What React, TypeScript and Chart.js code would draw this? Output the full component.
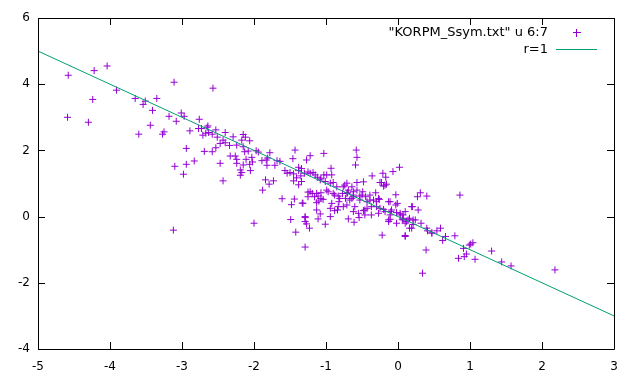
import React, { useEffect, useRef } from "react";
import { Chart, registerables } from "chart.js";

Chart.register(...registerables);

const xTicks = [-5, -4, -3, -2, -1, 0, 1, 2, 3];
const yTicks = [-4, -2, 0, 2, 4, 6];
const seriesLabel = '"KORPM_Ssym.txt" u 6:7';
const lineLabel = "r=1";
const lineX = [-5, 3];
const lineY = [5, -3];

const ptX = [
  -4.58, -4.22, -4.04, -4.59, -4.30, -4.24, -3.91, -3.65, -3.54, -3.51, -3.35, -3.41, -3.11, -3.60, -3.44, -3.27, -3.25, -3.18, -3.08, -3.01,
  -2.97, -2.76, -2.89, -2.77, -2.73, -2.65, -2.71, -2.67, -2.94, -2.69, -2.83, -2.94, -3.10, -2.98, -3.12, -2.57,
  -2.64, -2.63, -2.53, -2.58, -2.51, -2.40, -2.43, -2.40, -2.47, -2.29, -2.34, -2.24, -2.15, -2.12, -2.17, -2.06, -2.13, -2.08, -2.15, -1.97,
  -1.94, -1.78, -2.58, -2.53, -2.33, -2.26, -2.24, -2.47, -2.11, -2.03, -2.02, -2.06, -2.24, -2.15, -2.19, -2.17, -2.19, -2.05, -1.89, -1.83,
  -1.81, -1.82, -1.71, -1.64, -1.43, -1.46, -1.27, -1.68, -2.43, -1.84, -1.79, -1.73, -1.88, -1.57, -1.54, -1.50, -1.45, -1.38, -1.34, -1.35,
  -1.41, -1.45, -1.38, -1.25, -1.25, -1.61, -1.44, -1.48, -1.33, -1.49, -1.29, -1.27, -1.42, -2.00, -1.29,
  -1.22, -1.03, -0.58, -0.57, -0.59, -1.18, -1.30, -0.93, -0.92, -1.03, -1.12, -1.08, -1.01, -0.94, -0.90, -0.36, -0.48, -0.57, -0.71, -0.76,
  -0.64, -0.69, -0.57, -0.49, -1.19, -1.13, -1.07, -1.16, -1.07, -0.99, -0.90, -0.83, -0.77, -0.73, -0.82, -0.62, -0.53, -0.45, -0.39, -0.31,
  -0.30, -1.32, -1.10, -1.13, -1.08, -0.94, -0.88, -0.84, -0.62, -0.48, -0.43, -0.37, -0.54, -0.69, -0.61, -1.29, -0.94, -1.11, -1.29, -1.01,
  -1.23,
  0.02, -0.07, -0.21, -0.17, -0.25, -0.20, -0.16, -0.03, 0.31, 0.27, 0.40, -0.34, -0.26, -0.11, -0.01, 0.19, 0.28, -0.30, -0.20, -0.10,
  -0.02, 0.07, 0.16, 0.21, -0.11, -0.13, 0.03, 0.06, 0.12, 0.21, 0.16, 0.32, 0.41, 0.47, 0.54, 0.59, 0.66, -0.22, 0.10, 0.39,
  0.86, 0.79, 0.62, 0.91, 0.99, 1.01, 1.04, 0.95, 0.84, 0.92, 1.07, 1.30, 1.44, 1.57, 2.18, 0.34,
  -1.38, -1.22, -1.15, -1.07, -0.99, -0.85, -0.74, -1.34, -1.22, -1.11, -1.25, -1.13, -1.04, -0.97, -0.88, -0.81, -0.92, -0.76, -0.67, -0.71,
  -0.62, -0.83,
  -0.70, -0.23, -0.18, -0.62, -0.50, -0.39, -0.64, -0.53, -0.43, -0.27, -0.13, -0.71, -0.60, -0.46, -0.37, -0.25, -0.18, -0.55, -0.46, -0.27,
  -0.11, 0.03, -0.13, 0.07,
  -0.03, -0.09, 0.10, 0.20, 0.07, 0.14, 0.24, 0.10, 0.19, -0.02, 0.10, 0.40, 0.47,
];

const ptY = [
  4.27, 4.41, 4.55, 3.00, 2.85, 3.54, 3.82, 3.57, 3.39, 3.49, 3.57, 3.21, 4.06, 2.49, 2.76, 2.49, 2.56, 3.03, 2.88, 3.13,
  3.03, 2.94, 2.59, 2.66, 2.66, 2.70, 2.46, 2.52, 2.06, 1.97, 1.68, 1.58, 1.52, 1.28, -0.41, 3.88,
  2.74, 2.54, 2.62, 2.49, 2.40, 2.54, 2.31, 2.23, 2.21, 2.41, 2.15, 2.16, 2.48, 2.40, 2.31, 2.29, 1.96, 1.98, 2.11, 1.99,
  1.95, 1.93, 1.96, 2.08, 1.83, 1.83, 1.73, 1.61, 1.73, 1.79, 1.65, 1.58, 1.61, 1.56, 1.41, 1.33, 1.25, 1.39, 1.69, 1.71,
  1.77, 1.55, 1.55, 1.67, 2.01, 1.75, 1.71, 1.69, 1.08, 1.11, 0.98, 1.08, 0.80, 1.39, 1.31, 1.33, 1.29, 1.39, 1.45, 1.23,
  1.17, 1.08, 0.96, 1.35, 0.74, 0.54, 0.53, 0.36, 0.41, -0.09, -0.03, -0.22, -0.47, -0.20, -0.92,
  1.84, 1.91, 2.01, 1.79, 1.56, 1.33, 1.31, 1.46, 1.26, 1.26, 1.19, 1.11, 1.06, 1.01, 1.03, 1.23, 1.05, 1.03, 1.01, 0.90,
  0.90, 0.80, 0.80, 0.75, 0.70, 0.70, 0.72, 0.60, 0.55, 0.80, 0.70, 0.62, 0.70, 0.55, 0.45, 0.60, 0.62, 0.60, 0.50, 0.72,
  0.45, 0.40, 0.47, 0.20, 0.08, 0.25, 0.18, 0.20, 0.15, 0.18, 0.25, 0.05, -0.03, -0.07, -0.17, 0.00, 0.00, -0.07, -0.15, -0.23,
  -0.35,
  1.49, 1.36, 1.31, 1.19, 1.03, 0.92, 0.98, 0.66, 0.72, 0.60, 0.62, 0.50, 0.52, 0.45, 0.40, 0.30, 0.20, 0.30, 0.22, 0.15,
  0.12, 0.05, -0.05, -0.10, -0.08, -0.15, 0.05, -0.08, -0.15, -0.24, -0.35, -0.20, -0.43, -0.49, -0.43, -0.35, -0.60, -0.56, -0.60, -1.01,
  0.65, -0.58, -0.72, -0.96, -0.86, -0.83, -0.79, -1.13, -1.26, -1.21, -1.29, -1.04, -1.37, -1.49, -1.61, -1.71,
  1.49, 1.31, 1.26, 1.16, 1.26, 0.90, 0.95, 1.06, 0.75, 0.62, 0.60, 0.42, 0.52, 0.75, 0.65, 0.55, 0.40, 0.30, 0.50, 0.70,
  0.75, 0.30,
  0.72, 1.03, 0.95, 0.65, 0.65, 0.65, 0.55, 0.50, 0.45, 0.55, 0.45, 0.35, 0.30, 0.20, 0.30, 0.25, 0.15, 0.10, 0.05, 0.10,
  0.05, 0.10, -0.10, -0.10,
  0.35, 0.20, 0.15, 0.30, -0.05, -0.10, -0.10, -0.20, -0.35, -0.20, -0.57, -0.35, -0.50,
];

const POINT_COLOR = "#9400d3";
const LINE_COLOR = "#009e73";
const LEGEND_FONT = "13px 'DejaVu Sans'";

const framePlugin = {
  id: "gnuFrame",
  afterDraw(chart: any) {
    const ctx = chart.ctx;
    const { left, right, top, bottom } = chart.chartArea;
    const xs = chart.scales.x;
    const ys = chart.scales.y;
    const tl = 7;
    ctx.save();
    ctx.strokeStyle = "#000";
    ctx.lineWidth = 1;
    ctx.beginPath();
    ctx.rect(Math.round(left) + 0.5, Math.round(top) + 0.5, Math.round(right - left), Math.round(bottom - top));
    ctx.stroke();
    ctx.beginPath();
    for (const v of xTicks) {
      const px = Math.round(xs.getPixelForValue(v)) + 0.5;
      ctx.moveTo(px, bottom);
      ctx.lineTo(px, bottom - tl);
      ctx.moveTo(px, top);
      ctx.lineTo(px, top + tl);
    }
    for (const v of yTicks) {
      const py = Math.round(ys.getPixelForValue(v)) + 0.5;
      ctx.moveTo(left, py);
      ctx.lineTo(left + tl, py);
      ctx.moveTo(right, py);
      ctx.lineTo(right - tl, py);
    }
    ctx.stroke();

    // legend
    ctx.font = LEGEND_FONT;
    ctx.fillStyle = "#000";
    ctx.textAlign = "right";
    ctx.textBaseline = "middle";
    ctx.fillText(seriesLabel, 548, 33);
    ctx.fillText(lineLabel, 548, 50);
    ctx.strokeStyle = POINT_COLOR;
    ctx.beginPath();
    ctx.moveTo(573, 32.5);
    ctx.lineTo(581, 32.5);
    ctx.moveTo(576.5, 29);
    ctx.lineTo(576.5, 37);
    ctx.stroke();
    ctx.strokeStyle = LINE_COLOR;
    ctx.beginPath();
    ctx.moveTo(556, 49.5);
    ctx.lineTo(597, 49.5);
    ctx.stroke();
    ctx.restore();
  },
};

export default function App() {
  const ref = useRef<HTMLCanvasElement | null>(null);
  useEffect(() => {
    document.body.style.margin = "0";
    const canvas = ref.current;
    if (!canvas) return;
    const points = ptX.map((x, i) => ({ x, y: ptY[i] }));
    const line = lineX.map((x, i) => ({ x, y: lineY[i] }));
    const chart = new Chart(canvas, {
      type: "scatter",
      data: {
        datasets: [
          {
            type: "line",
            label: lineLabel,
            data: line,
            borderColor: LINE_COLOR,
            borderWidth: 1,
            pointRadius: 0,
            fill: false,
          } as any,
          {
            label: seriesLabel,
            data: points,
            pointStyle: "cross",
            pointRadius: 3.5,
            pointBorderWidth: 1,
            borderColor: POINT_COLOR,
            backgroundColor: POINT_COLOR,
          } as any,
        ],
      },
      options: {
        animation: false,
        responsive: false,
        events: [],
        layout: { padding: { top: 18, right: 26, left: 0, bottom: 0 } },
        plugins: { legend: { display: false }, tooltip: { enabled: false } },
        scales: {
          x: {
            type: "linear",
            min: -5,
            max: 3,
            afterBuildTicks: (s: any) => {
              s.ticks = xTicks.map((v) => ({ value: v }));
            },
            afterFit: (s: any) => {
              s.height = 35;
            },
            grid: { display: false, drawTicks: false },
            border: { display: false },
            ticks: { color: "#000", font: { family: "DejaVu Sans", size: 12 }, padding: 11, maxRotation: 0 },
          },
          y: {
            type: "linear",
            min: -4,
            max: 6,
            afterBuildTicks: (s: any) => {
              s.ticks = yTicks.map((v) => ({ value: v }));
            },
            afterFit: (s: any) => {
              s.width = 38;
            },
            grid: { display: false, drawTicks: false },
            border: { display: false },
            ticks: { color: "#000", font: { family: "DejaVu Sans", size: 12 }, padding: 8 },
          },
        },
      },
      plugins: [framePlugin],
    });
    return () => chart.destroy();
  }, []);
  return (
    <div style={{ position: "absolute", left: 0, top: 0, width: 640, height: 384, background: "#fff" }}>
      <canvas ref={ref} width={640} height={384} />
    </div>
  );
}
